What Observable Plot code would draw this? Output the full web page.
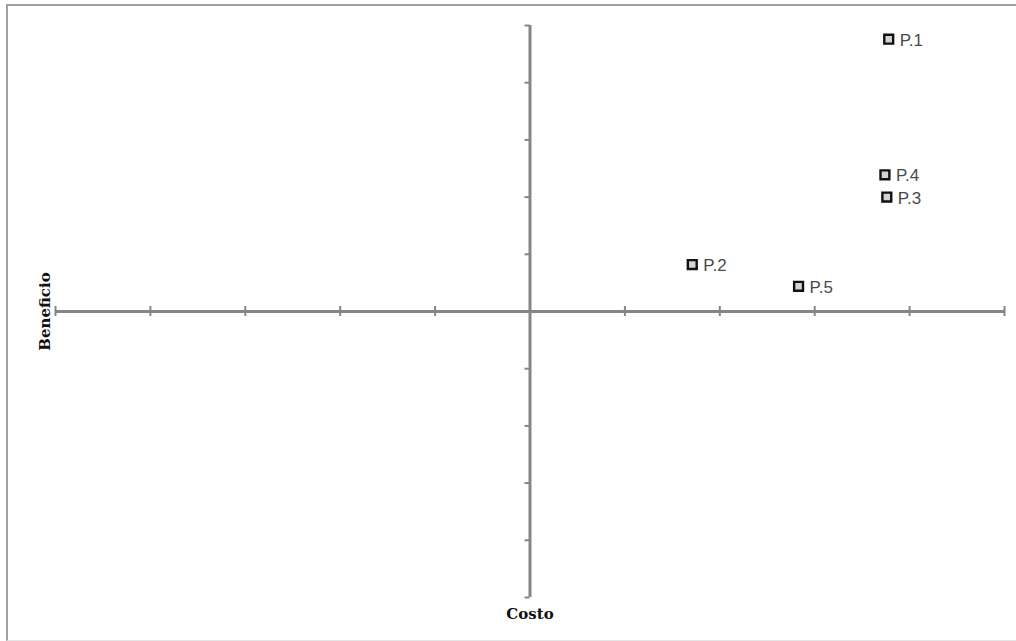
<!DOCTYPE html>
<html>
<head>
<meta charset="utf-8">
<script src="https://cdn.jsdelivr.net/npm/d3@7"></script>
<script src="https://cdn.jsdelivr.net/npm/@observablehq/plot@0.6"></script>
<style>
  html, body { margin: 0; padding: 0; background: #fff; }
  #wrap { position: relative; width: 1016px; height: 641px; overflow: hidden; }
  #wrap svg { position: absolute; left: 0; top: 0; }
  #frame { position: absolute; left: 6px; top: 4px; width: 1030px; height: 634px;
           border-left: 2px solid #a0a0a0; border-top: 2px solid #a0a0a0; border-bottom: 1px solid #e4e4e4;
           pointer-events: none; }
</style>
</head>
<body>
<div id="wrap"><div id="frame"></div></div>
<script>
const labels = ["P.1", "P.2", "P.3", "P.4", "P.5"];
const costo = [3.78, 1.71, 3.76, 3.74, 2.83];
const beneficio = [4.76, 0.82, 2.0, 2.39, 0.44];
const xTicks = [-5, -4, -3, -2, -1, 0, 1, 2, 3, 4, 5];
const yTicks = [-5, -4, -3, -2, -1, 0, 1, 2, 3, 4, 5];
const xTitle = "Costo";
const yTitle = "Beneficio";

const points = labels.map((label, i) => ({label, x: costo[i], y: beneficio[i]}));
const axisColor = "#858585";

const chart = Plot.plot({
  width: 1016,
  height: 641,
  margin: 0,
  x: {domain: [-5, 5], range: [55, 1004], axis: null},
  y: {domain: [-5, 5], range: [597, 25], axis: null},
  style: {background: "transparent"},
  marks: [
    Plot.ruleY([0], {x1: -5, x2: 5, stroke: axisColor, strokeWidth: 3}),
    Plot.ruleX([0], {y1: -5, y2: 5, stroke: axisColor, strokeWidth: 3}),
    Plot.ruleX(xTicks, {x: d => d, y1: 0, y2: 0, insetTop: -5, insetBottom: -5, stroke: axisColor, strokeWidth: 2}),
    Plot.ruleY(yTicks, {y: d => d, x1: 0, x2: 0, insetLeft: -5, stroke: axisColor, strokeWidth: 2}),
    Plot.dot(points, {x: "x", y: "y", symbol: "square", r: 5, fill: "#d4d4d4", stroke: "#111", strokeWidth: 2.4}),
    Plot.text(points, {x: "x", y: "y", text: "label", dx: 11, dy: 1, textAnchor: "start", fontSize: 17,
      fill: "#4a4a4a", fontFamily: "Liberation Sans, Arial, sans-serif"}),
    Plot.text([xTitle], {x: 0, y: -5, text: d => d, dy: 17, fontSize: 15, fontWeight: "bold",
      fontFamily: "DejaVu Serif, serif", fill: "#111"}),
    Plot.text([yTitle], {x: -5, y: 0, text: d => d, dx: -10, rotate: -90, fontSize: 15, fontWeight: "bold",
      fontFamily: "DejaVu Serif, serif", fill: "#111"})
  ]
});
document.getElementById("wrap").prepend(chart);
</script>
</body>
</html>
